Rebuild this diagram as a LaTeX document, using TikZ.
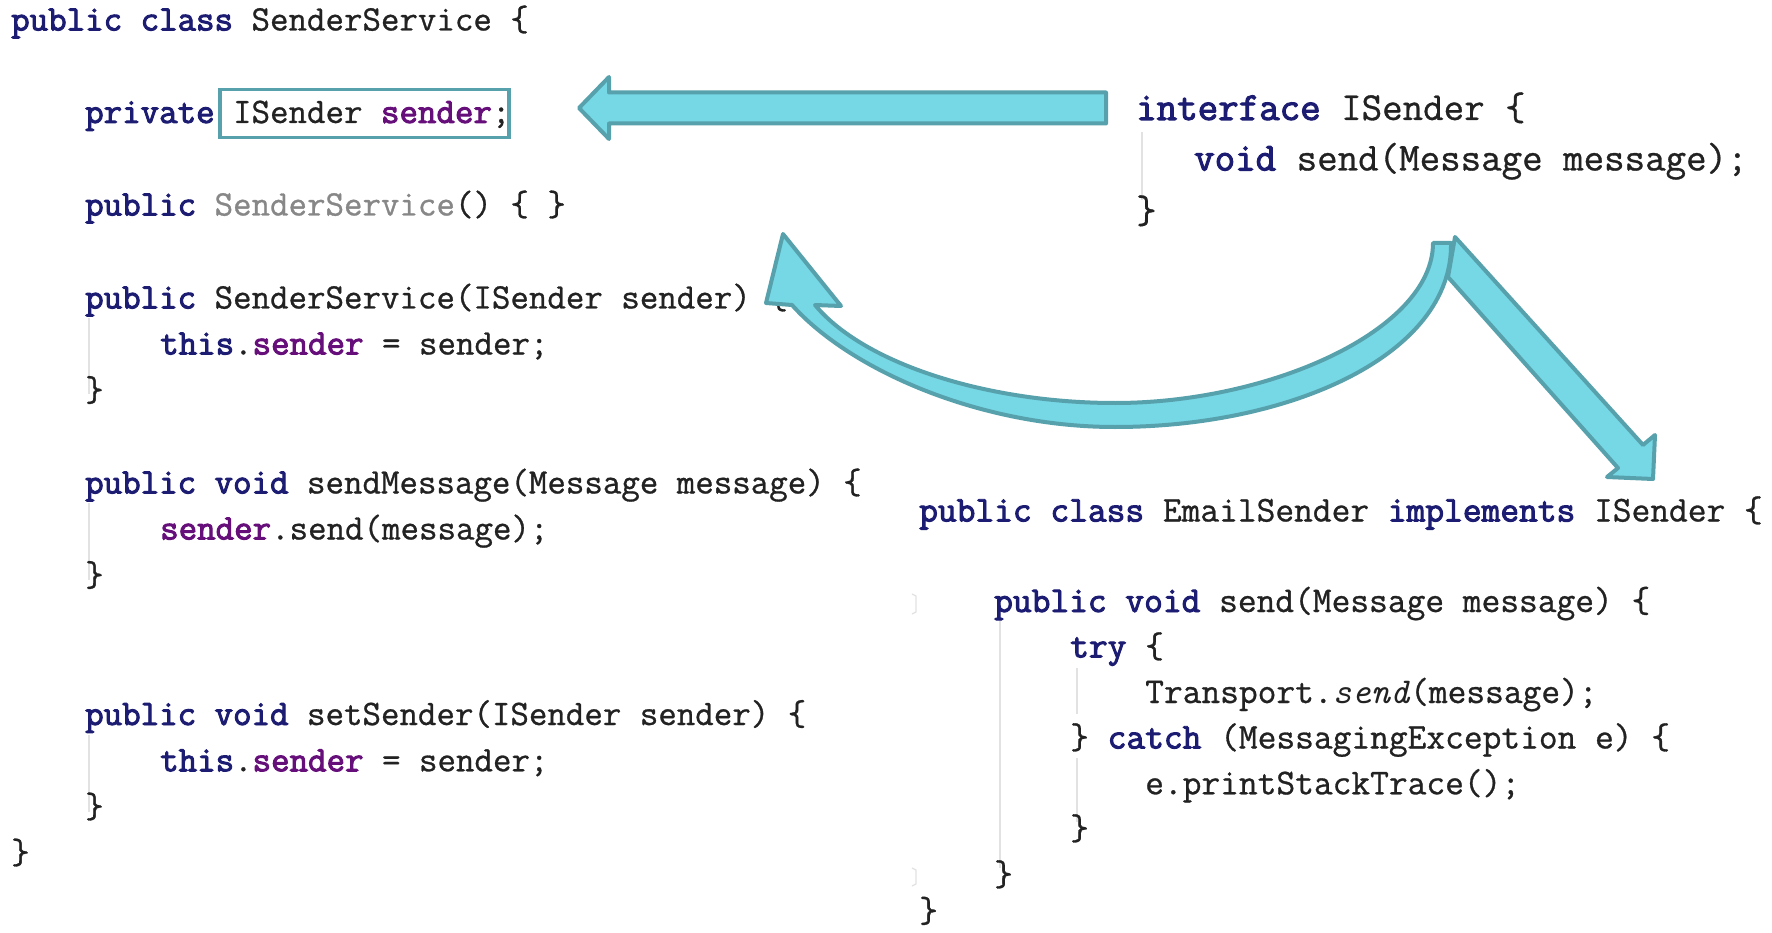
\documentclass[tikz,border=0pt]{standalone}
\usepackage{fontspec}
\newfontfamily\codefont{Latin Modern Mono}[UprightFeatures={FakeBold=0.8},BoldFont={Latin Modern Mono},BoldFeatures={FakeBold=2.6}]
\definecolor{kwc}{RGB}{28,28,115}
\definecolor{fldc}{RGB}{102,14,122}
\definecolor{txtc}{RGB}{34,34,34}
\definecolor{greyc}{RGB}{135,135,135}
\definecolor{arrowfill}{RGB}{118,215,229}
\definecolor{arrowline}{RGB}{86,161,172}
\definecolor{guidec}{RGB}{226,226,226}
\newcommand\kw[1]{{\color{kwc}\bfseries#1}}
\newcommand\fld[1]{{\color{fldc}\bfseries#1}}
\begin{document}
\begin{tikzpicture}[x=1pt,y=-1pt,
  code/.style={anchor=base west,inner sep=0pt,text=txtc,font=\codefont\fontsize{35.9}{40}\selectfont},
  ecode/.style={code,font=\codefont\fontsize{36.4}{40}\selectfont},
  icode/.style={code,font=\codefont\fontsize{39.8}{44}\selectfont},
  fatarrow/.style={fill=arrowfill,draw=arrowline,line width=4pt,line join=round},
  guide/.style={draw=guidec,line width=1.2pt},
  hlbox/.style={draw=arrowline,line width=3.5pt,anchor=north west,inner sep=0pt,minimum width=289pt,minimum height=48pt}]
\useasboundingbox[fill=white] (0,0) rectangle (1772,933);
% indentation guides
\draw[guide] (89,318) -- (89,394);
\draw[guide] (89,503) -- (89,580);
\draw[guide] (89,735) -- (89,812);
\draw[guide] (1142,132) -- (1142,200);
\draw[guide] (1000,620) -- (1000,868);
\draw[guide] (1077,668) -- (1077,714);
\draw[guide] (1077,758) -- (1077,822);
\draw[guide] (912,594) -- (916,596) -- (916,612) -- (912,614);
\draw[guide] (912,868) -- (916,870) -- (916,884) -- (912,886);
% SenderService
\node[code] (l1) at (11,30.5) {\kw{public class} SenderService \{};
\node[code] (l2) at (85,123) {\kw{private} ISender \fld{sender};};
\node[code] (l3) at (85,215.5) {\kw{public} {\color{greyc}SenderService}() \{ \}};
\node[code] (l4) at (85,308.5) {\kw{public} SenderService(ISender sender) \{};
\node[code] (l5) at (160,354.5) {\kw{this}.\fld{sender} = sender;};
\node[code] (l6) at (85,401) {\}};
\node[code] (l7) at (85,493.5) {\kw{public void} sendMessage(Message message) \{};
\node[code] (l8) at (160,539.5) {\fld{sender}.send(message);};
\node[code] (l9) at (85,586) {\}};
\node[code] (l10) at (85,725) {\kw{public void} setSender(ISender sender) \{};
\node[code] (l11) at (160,771.3) {\kw{this}.\fld{sender} = sender;};
\node[code] (l12) at (85,817.5) {\}};
\node[code] (l13) at (11,863.5) {\}};
% ISender
\node[icode] (r1) at (1136,120) {\kw{interface} ISender \{};
\node[icode] (r2) at (1194,170.5) {\kw{void} send(Message message);};
\node[icode] (r3) at (1136,223) {\}};
% EmailSender
\node[ecode] (e1) at (919,521.5) {\kw{public class} EmailSender \kw{implements} ISender \{};
\node[ecode] (e2) at (994,612) {\kw{public void} send(Message message) \{};
\node[ecode] (e3) at (1070,657.5) {\kw{try} \{};
\node[ecode] (e4) at (1145,703) {Transport.\textit{send}(message);};
\node[ecode] (e5) at (1070,748.5) {\} \kw{catch} (MessagingException e) \{};
\node[ecode] (e6) at (1145,794.3) {e.printStackTrace();};
\node[ecode] (e7) at (1070,839.5) {\}};
\node[ecode] (e8) at (994,885.5) {\}};
\node[ecode] (e9) at (919,922) {\}};
% highlight box
\node[hlbox] (box) at (218,88) {};
% arrows
\coordinate (hstart) at (1106,108);
\coordinate (htip) at (579,108);
\draw[fatarrow] ([yshift=-15.5pt]hstart) -- ([xshift=30,yshift=-15.5pt]htip) -- ([xshift=30,yshift=-31pt]htip) -- (htip)
  -- ([xshift=30,yshift=31pt]htip) -- ([xshift=30,yshift=15.5pt]htip) -- ([yshift=15.5pt]hstart) -- cycle;
\coordinate (dstart) at (1451,257);
\coordinate (dtip) at (1653,479);
\draw[fatarrow] (1455,237) -- (1643,445) -- (1655,435) -- (dtip) -- (1607,477) -- (1618,468) -- (1448,277) -- cycle;
\coordinate (ctail) at (1442,243);
\coordinate (ctip) at (783,234);
\draw[fatarrow] (1433,243) -- (1451,243) .. controls (1453,355) and (1290,427) .. (1115,427)
  .. controls (980,427) and (850,370) .. (792,305) -- (766,303) -- (ctip) -- (841,306) -- (815,305)
  .. controls (865,365) and (990,403) .. (1115,403) .. controls (1270,403) and (1433,330) .. (1433,243) -- cycle;
\end{tikzpicture}
\end{document}
